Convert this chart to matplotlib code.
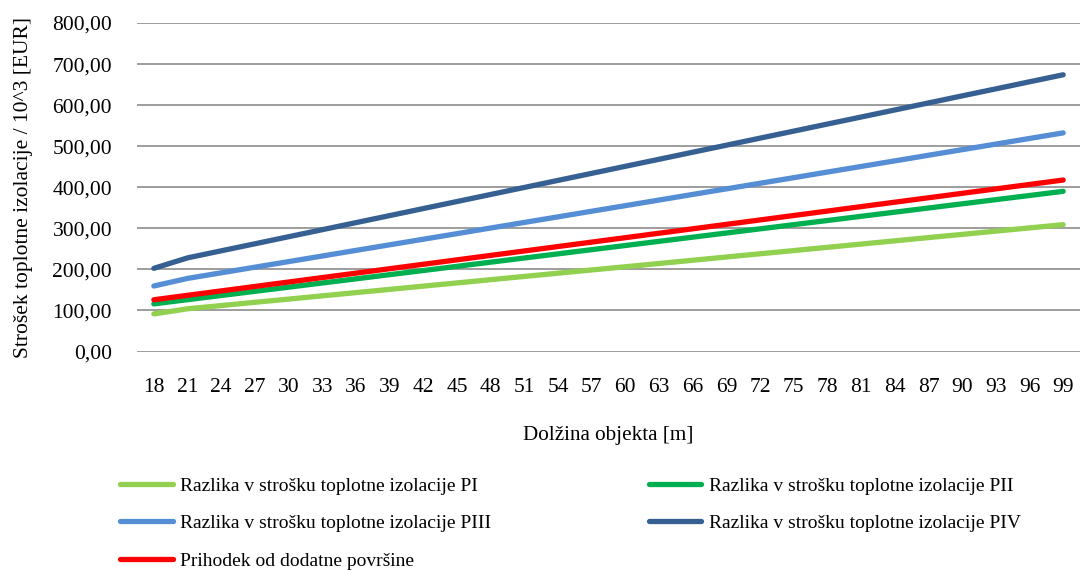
import matplotlib.pyplot as plt
from matplotlib.ticker import FuncFormatter

plt.rcParams['font.family'] = ['Liberation Serif', 'DejaVu Serif']

# dolzina objekta [m]
dolzina = list(range(18, 100, 3))

# razlika v strosku toplotne izolacije / 10^3 EUR
p1 = [91.5, 104.0, 111.9, 119.8, 127.6, 135.5, 143.4, 151.3, 159.2, 167.0,
      174.9, 182.8, 190.7, 198.6, 206.4, 214.3, 222.2, 230.1, 238.0, 245.8,
      253.7, 261.6, 269.5, 277.4, 285.2, 293.1, 301.0, 308.9]
p2 = [116.0, 126.2, 136.3, 146.5, 156.6, 166.8, 176.9, 187.1, 197.2, 207.4,
      217.5, 227.7, 237.8, 248.0, 258.1, 268.3, 278.4, 288.6, 298.7, 308.9,
      319.0, 329.2, 339.3, 349.5, 359.6, 369.8, 379.9, 390.1]
p3 = [159.5, 178.0, 191.6, 205.3, 218.9, 232.5, 246.2, 259.8, 273.4, 287.0,
      300.7, 314.3, 327.9, 341.6, 355.2, 368.8, 382.5, 396.1, 409.7, 423.3,
      437.0, 450.6, 464.2, 477.9, 491.5, 505.1, 518.8, 532.4]
p4 = [202.5, 228.0, 245.2, 262.3, 279.5, 296.6, 313.8, 330.9, 348.1, 365.2,
      382.4, 399.5, 416.7, 433.8, 451.0, 468.1, 485.3, 502.4, 519.6, 536.7,
      553.9, 571.0, 588.2, 605.3, 622.5, 639.6, 656.8, 673.9]
prihodek = [126.0, 136.8, 147.6, 158.4, 169.2, 180.0, 190.8, 201.6, 212.4, 223.2,
            234.0, 244.8, 255.6, 266.4, 277.2, 288.0, 298.8, 309.6, 320.4, 331.2,
            342.0, 352.8, 363.6, 374.4, 385.2, 396.0, 406.8, 417.6]

serije = [
    ("Razlika v strošku toplotne izolacije PI", p1, "#92D050"),
    ("Razlika v strošku toplotne izolacije PII", p2, "#00B050"),
    ("Razlika v strošku toplotne izolacije PIII", p3, "#558ED5"),
    ("Razlika v strošku toplotne izolacije PIV", p4, "#376092"),
    ("Prihodek od dodatne površine", prihodek, "#FF0000"),
]

fig = plt.figure(figsize=(10.8, 5.7), dpi=100)
ax = fig.add_axes([137 / 1080, 1 - 351.5 / 570, 943 / 1080, (351.5 - 23) / 570])

x = list(range(len(dolzina)))
lines = {}
for ime, vals, barva in serije:
    l, = ax.plot(x, vals, color=barva, lw=3.8, solid_capstyle='round',
                 solid_joinstyle='round', label=ime)
    lines[ime] = l

ax.set_xlim(-0.5, len(dolzina) - 0.5)
ax.set_ylim(0, 800)
ax.set_yticks(range(0, 801, 100))
ax.yaxis.set_major_formatter(FuncFormatter(lambda v, p: f"{v:.2f}".replace('.', ',')))
ax.set_xticks(x)
ax.set_xticklabels([str(d) for d in dolzina])
ax.tick_params(axis='both', length=0, labelsize=15.5)
ax.tick_params(axis='y', pad=18)
ax.tick_params(axis='x', pad=19)
ax.grid(axis='y', color='#8c8c8c', lw=1.2)
ax.set_axisbelow(True)
for s in ax.spines.values():
    s.set_visible(False)

ax.set_xlabel("Dolžina objekta [m]", fontsize=15.2, labelpad=21)
ax.set_ylabel("Strošek toplotne izolacije / 10^3 [EUR]", fontsize=15.5)
ax.yaxis.set_label_coords(-104 / 943, 0.5)

# vrstni red tako, da se legenda bere po vrsticah
red = [0, 2, 4, 1, 3]
h = [lines[serije[i][0]] for i in red]
fig.legend(h, [serije[i][0] for i in red], ncol=2, frameon=False,
           loc='upper left', bbox_to_anchor=(120 / 1080, 1 - 477 / 570),
           fontsize=14, handlelength=2.7, handletextpad=0.4,
           columnspacing=8.1, labelspacing=1.03, borderpad=0, borderaxespad=0)

fig.savefig("out.png", dpi=100)
